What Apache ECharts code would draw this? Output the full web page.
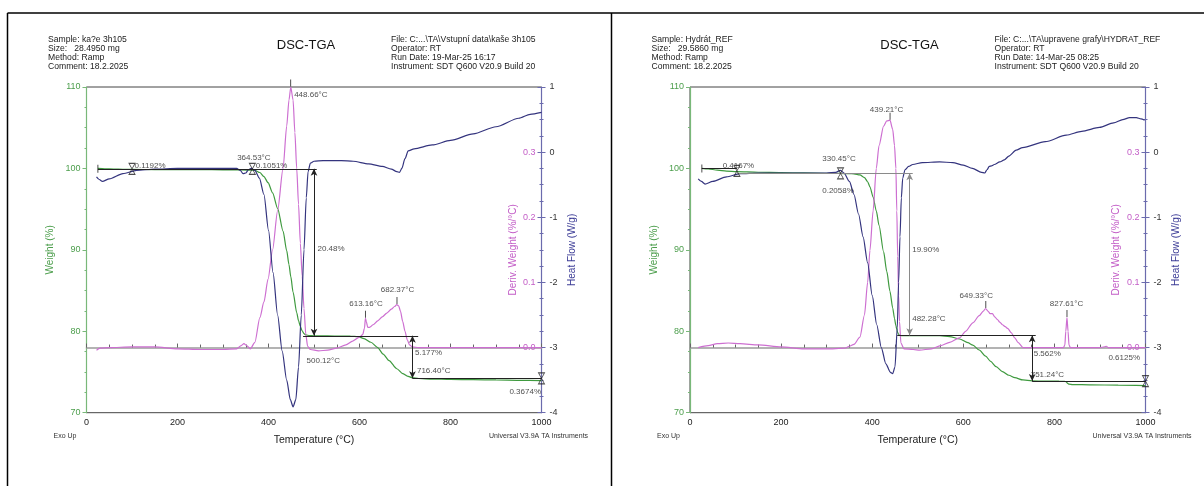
<!DOCTYPE html>
<html>
<head>
<meta charset="utf-8">
<script src="https://cdn.jsdelivr.net/npm/echarts@6/dist/echarts.min.js"></script>
<style>
  html, body { margin: 0; padding: 0; background: #fff; }
  #chart { width: 1204px; height: 486px; }
</style>
</head>
<body>
<div id="chart"></div>
<script>
// ---------- Run A: kaše 3h105 ----------
const headerA = ['Sample: ka?e 3h105', 'Size:   28.4950 mg', 'Method: Ramp', 'Comment: 18.2.2025'];
const infoA = ['File: C:...\\TA\\Vstupní data\\kaše 3h105', 'Operator: RT', 'Run Date: 19-Mar-25 16:17', 'Instrument: SDT Q600 V20.9 Build 20'];

// [temperature °C, weight %]
const weightA = [[25,100.0],[40,99.96],[60,99.92],[80,99.9],[100,99.88],[150,99.86],[200,99.85],[250,99.84],[300,99.83],[340,99.81],[364,99.79],[370,99.77],[381,99.5],[390,99.0],[399,98.25],[409,97.0],[420,95.1],[432,92.3],[440,89.9],[445,88.2],[449,86.7],[454,84.8],[462,82.3],[466,81.3],[470,80.6],[474,80.05],[478,79.7],[482,79.55],[490,79.48],[500,79.45],[530,79.43],[560,79.41],[580,79.4],[597,79.33],[610,79.1],[625,78.65],[640,78.0],[652,77.2],[665,76.4],[682,75.4],[695,74.8],[705,74.5],[716,74.3],[730,74.2],[760,74.13],[800,74.08],[850,74.05],[900,74.02],[950,73.98],[1000,73.95]];
// [temperature °C, deriv. weight %/°C]
const derivA = [[22,-0.004],[30,-0.001],[50,0.0],[100,0.001],[150,0.001],[200,-0.002],[250,-0.003],[300,-0.003],[330,-0.002],[340,0.003],[346,0.006],[352,0.003],[360,-0.002],[370,0.008],[381,0.046],[390,0.07],[399,0.105],[409,0.15],[420,0.21],[432,0.275],[440,0.34],[445,0.38],[449,0.40],[454,0.38],[458,0.33],[462,0.275],[466,0.22],[470,0.16],[474,0.11],[478,0.06],[482,0.02],[486,0.002],[492,-0.003],[510,-0.005],[530,-0.004],[550,-0.001],[570,0.004],[585,0.01],[600,0.016],[607,0.02],[611,0.03],[613,0.045],[615,0.04],[618,0.031],[622,0.031],[630,0.035],[640,0.041],[650,0.047],[660,0.053],[670,0.059],[677,0.063],[682,0.066],[686,0.064],[690,0.056],[695,0.04],[700,0.025],[705,0.012],[710,0.004],[716,0.001],[730,0.0],[800,0.0],[900,0.0],[1000,0.0]];
// [temperature °C, heat flow W/g]
const heatA = [[22,-0.38],[28,-0.42],[35,-0.45],[50,-0.41],[80,-0.33],[110,-0.28],[150,-0.26],[200,-0.25],[250,-0.25],[300,-0.25],[330,-0.25],[338,-0.28],[344,-0.33],[350,-0.32],[356,-0.27],[362,-0.25],[370,-0.28],[380,-0.4],[390,-0.65],[400,-1.2],[410,-1.85],[420,-2.5],[430,-3.05],[440,-3.5],[448,-3.8],[454,-3.91],[460,-3.8],[466,-3.3],[472,-2.5],[478,-1.5],[483,-0.7],[487,-0.3],[492,-0.17],[500,-0.14],[520,-0.13],[560,-0.13],[586,-0.14],[620,-0.18],[650,-0.22],[670,-0.26],[682,-0.3],[688,-0.31],[693,-0.25],[700,-0.1],[707,0.02],[720,0.05],[760,0.11],[800,0.18],[850,0.28],[900,0.39],[950,0.52],[975,0.58],[1000,0.61]];

// step baselines [[T, W], [T, W]] and step measurements with arrows
const baselinesA = [[[25,99.95],[506,99.95]], [[476,79.45],[729,79.45]], [[716.4,74.22],[1000,74.22]]];
const stepsA = [[[500,99.95],[500,79.45]], [[716.4,79.45],[716.4,74.22]]];
const stepMarksA = [[100,99.95],[364.53,99.95],[1000,74.22]];
const startMarksA = [[25,99.95]];
// weight-axis notes: [T, W, text]
const weightNotesA = [[100,99.95,'0.1192%'],[364.53,99.95,'364.53°C'],[364.53,99.95,'0.1051%'],[500,90,'20.48%'],[500.12,79.45,'500.12°C'],[716.4,79.45,'5.177%'],[716.4,74.22,'716.40°C'],[1000,74.22,'0.3674%']];
// DTG peaks: [T, deriv, text]
const peaksA = [[448.66,0.40,'448.66°C'],[613.16,0.045,'613.16°C'],[682.37,0.066,'682.37°C']];

// ---------- Run B: Hydrát_REF ----------
const headerB = ['Sample: Hydrát_REF', 'Size:   29.5860 mg', 'Method: Ramp', 'Comment: 18.2.2025'];
const infoB = ['File: C:...\\TA\\upravene grafy\\HYDRAT_REF', 'Operator: RT', 'Run Date: 14-Mar-25 08:25', 'Instrument: SDT Q600 V20.9 Build 20'];

const weightB = [[26,100.0],[40,99.93],[60,99.8],[80,99.68],[103,99.6],[150,99.53],[200,99.49],[250,99.45],[300,99.41],[330,99.38],[350,99.36],[360,99.34],[373,99.21],[383,98.88],[390,98.36],[395,97.74],[402,96.48],[409,94.78],[415,93.02],[425,89.77],[432,87.35],[439,84.91],[445,82.86],[449,81.57],[452,80.69],[454,80.2],[456,79.85],[458,79.63],[460,79.51],[463,79.46],[482,79.45],[520,79.46],[548,79.45],[570,79.35],[592,79.05],[610,78.6],[621,78.3],[635,77.7],[649,76.95],[660,76.3],[672,75.65],[686,75.05],[700,74.6],[713,74.3],[731,74.02],[751,73.9],[780,73.88],[810,73.87],[822,73.86],[826,73.8],[829,73.6],[832,73.5],[840,73.46],[880,73.42],[940,73.38],[1000,73.33]];
const derivB = [[18,0.0],[40,0.003],[60,0.006],[84,0.007],[110,0.006],[150,0.004],[200,0.001],[250,-0.002],[300,-0.002],[340,-0.001],[350,0.002],[360,0.005],[373,0.016],[383,0.05],[390,0.1],[395,0.149],[402,0.21],[409,0.275],[415,0.31],[425,0.34],[432,0.348],[439,0.349],[445,0.335],[449,0.31],[452,0.275],[454,0.21],[456,0.14],[458,0.08],[460,0.04],[463,0.007],[470,-0.002],[490,-0.003],[504,-0.004],[530,-0.002],[550,0.003],[570,0.008],[592,0.015],[605,0.025],[621,0.038],[635,0.049],[644,0.056],[649,0.06],[654,0.056],[659,0.052],[664,0.052],[669,0.047],[675,0.043],[680,0.039],[686,0.035],[692,0.032],[698,0.029],[705,0.023],[713,0.015],[720,0.008],[731,0.0],[800,0.0],[820,0.0],[823,0.004],[825,0.025],[827.6,0.046],[830,0.025],[832,0.004],[835,0.0],[900,0.0],[910,0.001],[914,0.002],[918,0.0],[1000,0.0]];
const heatB = [[18,-0.41],[25,-0.45],[33,-0.49],[50,-0.45],[80,-0.38],[110,-0.33],[150,-0.32],[200,-0.32],[250,-0.32],[300,-0.32],[320,-0.31],[330,-0.28],[338,-0.32],[350,-0.45],[360,-0.65],[370,-0.95],[380,-1.3],[390,-1.7],[400,-2.2],[410,-2.65],[420,-3.0],[430,-3.25],[440,-3.38],[445,-3.4],[450,-3.3],[455,-2.7],[458,-2.0],[461,-1.3],[464,-0.7],[467,-0.4],[472,-0.27],[480,-0.22],[489,-0.19],[510,-0.16],[548,-0.15],[577,-0.16],[600,-0.2],[620,-0.25],[640,-0.31],[647,-0.32],[652,-0.27],[657,-0.22],[662,-0.21],[668,-0.19],[680,-0.15],[690,-0.12],[700,-0.06],[716,0.03],[730,0.07],[780,0.16],[826,0.26],[860,0.32],[899,0.38],[930,0.45],[950,0.5],[965,0.53],[980,0.53],[990,0.51],[998,0.49]];

const baselinesB = [[[26,100.0],[103,100.0]], [[103,99.4],[489,99.4]], [[455,79.5],[759,79.5]], [[751.24,73.88],[1000,73.88]]];
const stepsB = [[[482.28,99.4],[482.28,79.5]], [[751.24,79.5],[751.24,73.88]]];
const stepMarksB = [[103,99.7],[330.45,99.4],[1000,73.88]];
const startMarksB = [[26,100.0]];
const weightNotesB = [[103,100.0,'0.4167%'],[330.45,99.4,'330.45°C'],[330.45,99.4,'0.2058%'],[482.28,90,'19.90%'],[482.28,79.5,'482.28°C'],[751.24,79.5,'5.562%'],[751.24,73.88,'751.24°C'],[1000,73.88,'0.6125%']];
const peaksB = [[439.21,0.349,'439.21°C'],[649.33,0.06,'649.33°C'],[827.61,0.046,'827.61°C']];

// ---------- shared axis ranges ----------
const tempRange = [0, 1000, 200];
const weightRange = [70, 110, 10];
const derivRange = [-0.1, 0.4, 0.1];
const heatRange = [-4, 1, 1];

// ---------- layout / style ----------
const FONT = '"Liberation Sans", Arial, Helvetica, sans-serif';
const COL = {
  weight: '#3f9a3f', weightAxis: '#4c9e4c', weightLine: '#79b879',
  deriv: '#cd6fd1', derivAxis: '#c35ec7',
  heat: '#34347e', heatAxis: '#6b6bad', heatName: '#3d3d97',
  ink: '#222', muted: '#8a8a8a'
};
const PANEL_SHIFT = 603.5;
const GRID_TOP = 87, GRID_H = 325.7;

// label placement: [dx, dy, align, verticalAlign]
const notePlaceA = [[3,1,'left','bottom'],[2,-11,'center','middle'],[4,-3,'left','middle'],[4,-1,'left','middle'],[-7,26,'left','middle'],[3,18,'left','middle'],[5,-7,'left','middle'],[0,14,'right','middle']];
const peakPlaceA = [[4,8,'left','middle'],[1,-14,'center','middle'],[1,-14,'center','middle']];
const notePlaceB = [[2,-2.5,'center','middle'],[-1,-14,'center','middle'],[-2,17.5,'center','middle'],[3,0,'left','middle'],[3,-16,'left','middle'],[2,19,'left','middle'],[-1,-6,'left','middle'],[-5,-22.5,'right','middle']];
const peakPlaceB = [[-3,-10,'center','middle'],[-9,-12,'center','middle'],[0,-13,'center','middle']];
const mutedB = [1, 0];   // baseline index, step index drawn in grey

const HOURGLASS = 'path://M0,0 L10,0 L5,8 Z M5,8 L0,16 L10,16 Z';

function noteSeries(items, place, xi, yi) {
  return {
    type: 'scatter', xAxisIndex: xi, yAxisIndex: yi, silent: true, clip: false, z: 6,
    symbolSize: 1, itemStyle: { color: 'rgba(0,0,0,0)' },
    data: items.map((it, k) => ({
      value: [it[0], it[1]],
      label: {
        show: true, formatter: it[2], position: [place[k][0], place[k][1]],
        align: place[k][2], verticalAlign: place[k][3],
        fontSize: 8, fontFamily: FONT, color: COL.ink
      }
    }))
  };
}

function buildPanel(i, d) {
  const gridLeft = 86.5 + i * PANEL_SHIFT;
  const grid = { left: gridLeft, top: GRID_TOP, width: 455 + i * 0.5, height: GRID_H,
    show: true, borderColor: '#444', borderWidth: 1, backgroundColor: 'transparent' };
  const xAxis = {
    gridIndex: i, type: 'value', min: tempRange[0], max: tempRange[1], interval: tempRange[2],
    axisLine: { show: true, lineStyle: { color: '#9a9a9a', width: 1.5 } },
    axisTick: { show: true, inside: true, length: 4, lineStyle: { color: '#666' } },
    minorTick: { show: true, splitNumber: 4, length: 3, lineStyle: { color: '#666' } },
    splitLine: { show: false }, minorSplitLine: { show: false },
    axisLabel: { color: COL.ink, fontSize: 9, fontFamily: FONT, margin: 5, formatter: v => String(v) },
    name: 'Temperature (°C)', nameLocation: 'middle', nameGap: 22,
    nameTextStyle: { color: COL.ink, fontSize: 10.5, fontFamily: FONT }
  };
  const yWeight = {
    gridIndex: i, type: 'value', position: 'left', min: weightRange[0], max: weightRange[1], interval: weightRange[2],
    axisLine: { show: true, lineStyle: { color: COL.weightLine, width: 1.2 } },
    axisTick: { show: true, length: 4, lineStyle: { color: COL.weightLine } },
    minorTick: { show: true, splitNumber: 4, length: 2, lineStyle: { color: COL.weightLine } },
    splitLine: { show: false },
    axisLabel: { color: COL.weightAxis, fontSize: 9, fontFamily: FONT, margin: 6 },
    name: 'Weight (%)', nameLocation: 'middle', nameGap: 31, nameRotate: 90,
    nameTextStyle: { color: COL.weightAxis, fontSize: 10, fontFamily: FONT }
  };
  const yDeriv = {
    gridIndex: i, type: 'value', position: 'right', min: derivRange[0], max: derivRange[1], interval: derivRange[2],
    axisLine: { show: false },
    axisTick: { show: true, inside: true, length: 4, lineStyle: { color: COL.heatAxis } },
    minorTick: { show: true, splitNumber: 4, length: 2, lineStyle: { color: COL.heatAxis } },
    splitLine: { show: false },
    axisLabel: { inside: true, color: COL.derivAxis, fontSize: 9, fontFamily: FONT, margin: 6,
      formatter: v => (v > -0.001 && v < 0.301) ? v.toFixed(1) : '' }
  };
  const yHeat = {
    gridIndex: i, type: 'value', position: 'right', min: heatRange[0], max: heatRange[1], interval: heatRange[2],
    axisLine: { show: true, lineStyle: { color: COL.heatAxis, width: 1.2 } },
    axisTick: { show: true, length: 4, lineStyle: { color: COL.heatAxis } },
    minorTick: { show: true, splitNumber: 4, length: 2, lineStyle: { color: COL.heatAxis } },
    splitLine: { show: false },
    axisLabel: { color: '#333', fontSize: 9, fontFamily: FONT, margin: 8 },
    name: 'Heat Flow (W/g)', nameLocation: 'middle', nameGap: 26, nameRotate: 90,
    nameTextStyle: { color: COL.heatName, fontSize: 10, fontFamily: FONT }
  };

  const yw = 3 * i, yd = 3 * i + 1, yh = 3 * i + 2;
  const curve = (data, yi, color) => ({
    type: 'line', xAxisIndex: i, yAxisIndex: yi, data, showSymbol: false, smooth: 0.25,
    smoothMonotone: 'x', silent: true, z: 3, lineStyle: { color, width: 1.2 }
  });
  const muted = d.muted || [-1, -1];
  const series = [
    curve(d.weight, yw, COL.weight),
    curve(d.deriv, yd, COL.deriv),
    curve(d.heat, yh, COL.heat),
    { type: 'line', xAxisIndex: i, yAxisIndex: yw, data: [], silent: true, z: 4,
      markLine: { silent: true, symbol: ['none', 'none'], label: { show: false }, animation: false,
        lineStyle: { color: COL.ink, width: 1, type: 'solid' },
        data: d.baselines.map((s, k) => [
          { coord: s[0], lineStyle: { color: k === muted[0] ? COL.muted : COL.ink, width: 1, type: 'solid' } },
          { coord: s[1] }]) } },
    { type: 'line', xAxisIndex: i, yAxisIndex: yw, data: [], silent: true, z: 4,
      markLine: { silent: true, symbol: ['arrow', 'arrow'], symbolSize: [5, 7], label: { show: false }, animation: false,
        lineStyle: { color: COL.ink, width: 1, type: 'solid' },
        data: d.steps.map((s, k) => [
          { coord: s[0], lineStyle: { color: k === muted[1] ? COL.muted : COL.ink, width: 1, type: 'solid' } },
          { coord: s[1] }]) } },
    { type: 'scatter', xAxisIndex: i, yAxisIndex: yw, data: d.stepMarks, silent: true, clip: false, z: 5,
      symbol: HOURGLASS, symbolSize: [6, 11], itemStyle: { color: 'rgba(0,0,0,0)', borderColor: COL.ink, borderWidth: 0.9 } },
    { type: 'scatter', xAxisIndex: i, yAxisIndex: yw, data: d.startMarks, silent: true, clip: false, z: 5,
      symbol: 'rect', symbolSize: [1, 8], itemStyle: { color: COL.ink } },
    { type: 'scatter', xAxisIndex: i, yAxisIndex: yd, data: d.peaks.map(p => [p[0], p[1]]), silent: true, clip: false, z: 5,
      symbol: 'rect', symbolSize: [1, 7], symbolOffset: [0, -4], itemStyle: { color: COL.ink } },
    noteSeries(d.notes, d.notePlace, i, yw),
    noteSeries(d.peaks, d.peakPlace, i, yd)
  ];
  return { grid, xAxis, yAxes: [yWeight, yDeriv, yHeat], series };
}

function textEl(x, y, text, font, fill, align, rotation) {
  return { type: 'text', x, y, rotation: rotation || 0, silent: true,
    style: { text, font: font + ' ' + FONT, fill, textAlign: align, textVerticalAlign: 'middle', align, verticalAlign: 'middle' } };
}

function headerGraphics(i, left, right) {
  const ox = i * PANEL_SHIFT;
  const rows = [39.5, 48.5, 57.5, 66.5];
  const els = [];
  left.forEach((t, k) => els.push(textEl(48 + ox, rows[k], t, '8.6px', '#222', 'left')));
  right.forEach((t, k) => els.push(textEl(391 + ox, rows[k], t, '8.6px', '#222', 'left')));
  els.push(textEl(306 + ox, 45, 'DSC-TGA', '13px', '#111', 'center'));
  els.push(textEl(53.5 + ox, 436, 'Exo Up', '7px', '#333', 'left'));
  els.push(textEl(489 + ox, 436, 'Universal V3.9A TA Instruments', '7px', '#333', 'left'));
  // name of the derivative axis, drawn just inside the right axis
  const t = textEl(513 + ox, GRID_TOP + GRID_H / 2, 'Deriv. Weight (%/°C)', '10px', COL.derivAxis, 'center', Math.PI / 2);
  t.z = 10;
  els.push(t);
  return els;
}

const panelA = buildPanel(0, { weight: weightA, deriv: derivA, heat: heatA, baselines: baselinesA, steps: stepsA,
  stepMarks: stepMarksA, startMarks: startMarksA, notes: weightNotesA, notePlace: notePlaceA, peaks: peaksA, peakPlace: peakPlaceA });
const panelB = buildPanel(1, { weight: weightB, deriv: derivB, heat: heatB, baselines: baselinesB, steps: stepsB,
  stepMarks: stepMarksB, startMarks: startMarksB, notes: weightNotesB, notePlace: notePlaceB, peaks: peaksB, peakPlace: peakPlaceB, muted: mutedB });

// page frame lines (table cells holding both thermograms)
const frame = [
  { type: 'line', silent: true, shape: { x1: 7.5, y1: 13, x2: 1204, y2: 13 }, style: { stroke: '#000', lineWidth: 1.5 } },
  { type: 'line', silent: true, shape: { x1: 7.5, y1: 13, x2: 7.5, y2: 486 }, style: { stroke: '#000', lineWidth: 1.5 } },
  { type: 'line', silent: true, shape: { x1: 611.5, y1: 13, x2: 611.5, y2: 486 }, style: { stroke: '#000', lineWidth: 1.5 } }
];

const chart = echarts.init(document.getElementById('chart'), null, { renderer: 'canvas' });
chart.setOption({
  animation: false,
  backgroundColor: '#fff',
  textStyle: { fontFamily: FONT },
  grid: [panelA.grid, panelB.grid],
  xAxis: [panelA.xAxis, panelB.xAxis],
  yAxis: [...panelA.yAxes, ...panelB.yAxes],
  series: [...panelA.series, ...panelB.series],
  graphic: [...frame, ...headerGraphics(0, headerA, infoA), ...headerGraphics(1, headerB, infoB)]
});
</script>
</body>
</html>
